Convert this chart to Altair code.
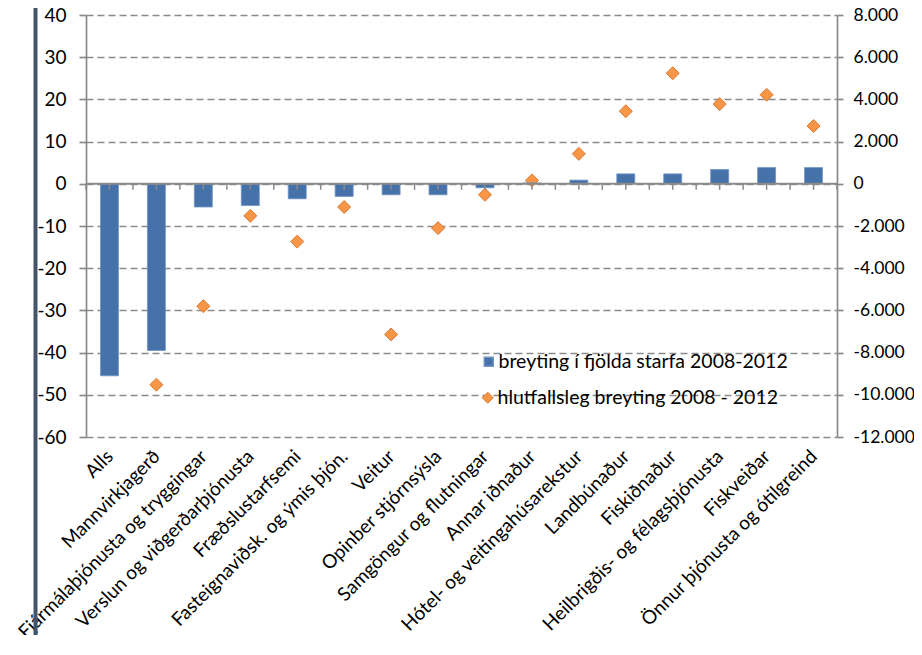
import altair as alt
import pandas as pd

categories = [
    "Alls", "Mannvirkjagerð", "Fjármálaþjónusta og tryggingar",
    "Verslun og viðgerðarþjónusta", "Fræðslustarfsemi",
    "Fasteignaviðsk. og ýmis þjón.", "Veitur", "Opinber stjórnsýsla",
    "Samgöngur og flutningar", "Annar iðnaður", "Hótel- og veitingahúsarekstur",
    "Landbúnaður", "Fiskiðnaður", "Heilbrigðis- og félagsþjónusta",
    "Fiskveiðar", "Önnur þjónusta og ótilgreind",
]
jobs_change = [-9100, -7900, -1100, -1030, -710, -600, -520, -520, -190,
               40, 175, 470, 470, 680, 770, 770]
pct_change = [-9.3, -47.6, -29.0, -7.6, -13.7, -5.5, -35.7, -10.5, -2.6,
              0.8, 7.1, 17.2, 26.2, 18.9, 21.1, 13.7]
left_ticks = [-60, -50, -40, -30, -20, -10, 0, 10, 20, 30, 40]
right_ticks = [-12000, -10000, -8000, -6000, -4000, -2000, 0, 2000, 4000, 6000, 8000]
bar_label = "breyting í fjölda starfa 2008-2012"
pt_label = "hlutfallsleg breyting 2008 - 2012"

df = pd.DataFrame({"cat": categories, "jobs": jobs_change, "pct": pct_change,
                   "s1": bar_label, "s2": pt_label})
tick_df = pd.DataFrame({"pos": [i / 2 for i in range(2 * len(categories) + 1)]})

FONT = "Lato"
GRAY = "#8A8A8A"
W, H = 751, 422
LEFT_DOM = [-60, 40]
RIGHT_DOM = [-12000, 8000]
AX_FS = 19
LEG_FS = 19.5

band = alt.Scale(paddingInner=0, paddingOuter=0)

bars = alt.Chart(df).mark_bar(width=18, stroke="#7094C4", strokeWidth=0.8).encode(
    x=alt.X("cat:N", sort=categories, scale=band, axis=None),
    y=alt.Y("jobs:Q", stack=None,
            scale=alt.Scale(domain=RIGHT_DOM, nice=False),
            axis=alt.Axis(orient="right", values=right_ticks, title=None, grid=False,
                          labelExpr="datum.value == 0 ? '0' : (datum.value < 0 ? '-' : '') + abs(datum.value) / 1000 + '.000'",
                          domainColor=GRAY, domainWidth=1.7, tickColor=GRAY, tickSize=6,
                          tickWidth=1.7, labelFont=FONT, labelFontSize=17.5,
                          labelColor="black", labelPadding=10, labelLimit=0)),
    color=alt.Color("s1:N", scale=alt.Scale(domain=[bar_label], range=["#4672A9"]),
                    legend=alt.Legend(orient="none", legendX=393, legendY=337, title=None,
                                      symbolType="square", symbolSize=81,
                                      labelFont=FONT, labelFontSize=LEG_FS, labelColor="black",
                                      labelOffset=0, padding=0, labelLimit=0)),
)

points = alt.Chart(df).mark_point(shape="diamond", size=169, filled=True, opacity=1,
                                   stroke="#E0782E", strokeWidth=1).encode(
    x=alt.X("cat:N", sort=categories, scale=band, title=None,
            axis=alt.Axis(labelAngle=315, labelAlign="right", labelBaseline="middle",
                          labelPadding=16, labelFont=FONT, labelFontSize=AX_FS,
                          labelColor="black", labelOverlap=False, labelLimit=0,
                          domain=False, ticks=False, orient="bottom")),
    y=alt.Y("pct:Q", scale=alt.Scale(domain=LEFT_DOM, nice=False),
            axis=alt.Axis(orient="left", values=left_ticks, title=None, grid=True,
                          gridDash=[7, 4], gridColor=GRAY, gridWidth=1.7,
                          labelExpr="datum.value < 0 ? '-' + abs(datum.value) : '' + datum.value",
                          domainColor=GRAY, domainWidth=1.7, tickColor=GRAY, tickSize=7,
                          tickWidth=1.7, labelFont=FONT, labelFontSize=AX_FS,
                          labelColor="black", labelPadding=13)),
    color=alt.Color("s2:N", scale=alt.Scale(domain=[pt_label], range=["#F79646"]),
                    legend=alt.Legend(orient="none", legendX=392, legendY=373, title=None,
                                      symbolType="diamond", symbolSize=121,
                                      symbolStrokeColor="#E0782E", symbolStrokeWidth=1,
                                      labelFont=FONT, labelFontSize=LEG_FS, labelColor="black",
                                      labelOffset=0, padding=0, labelLimit=0)),
)

zero_line = alt.Chart(df.head(1)).mark_rule(color=GRAY, strokeWidth=2).encode(
    y=alt.Y(datum=0, scale=alt.Scale(domain=LEFT_DOM, nice=False), axis=None)
)

xticks = alt.Chart(tick_df).mark_tick(orient="vertical", size=6, thickness=1.5,
                                      color=GRAY, yOffset=3, opacity=1).encode(
    x=alt.X("pos:Q", scale=alt.Scale(domain=[0, len(categories)], nice=False, zero=False),
            axis=None),
    y=alt.Y(datum=0, scale=alt.Scale(domain=LEFT_DOM, nice=False), axis=None),
)

frame = alt.Chart(df.head(1)).mark_rule(color="#44546A", strokeWidth=4).encode(
    x=alt.value(-50.5), y=alt.value(-7), y2=alt.value(640)
)

chart = alt.layer(frame, points, bars, zero_line, xticks).resolve_scale(
    x="independent", y="independent", color="independent"
).resolve_legend(color="independent").properties(
    width=W, height=H,
    autosize=alt.AutoSizeParams(type="none"),
    padding={"left": 78, "top": 7, "right": 77, "bottom": 198},
    background="white",
).configure_view(stroke=None)

chart.save("out.html", embed_options={"renderer": "svg", "actions": False})
